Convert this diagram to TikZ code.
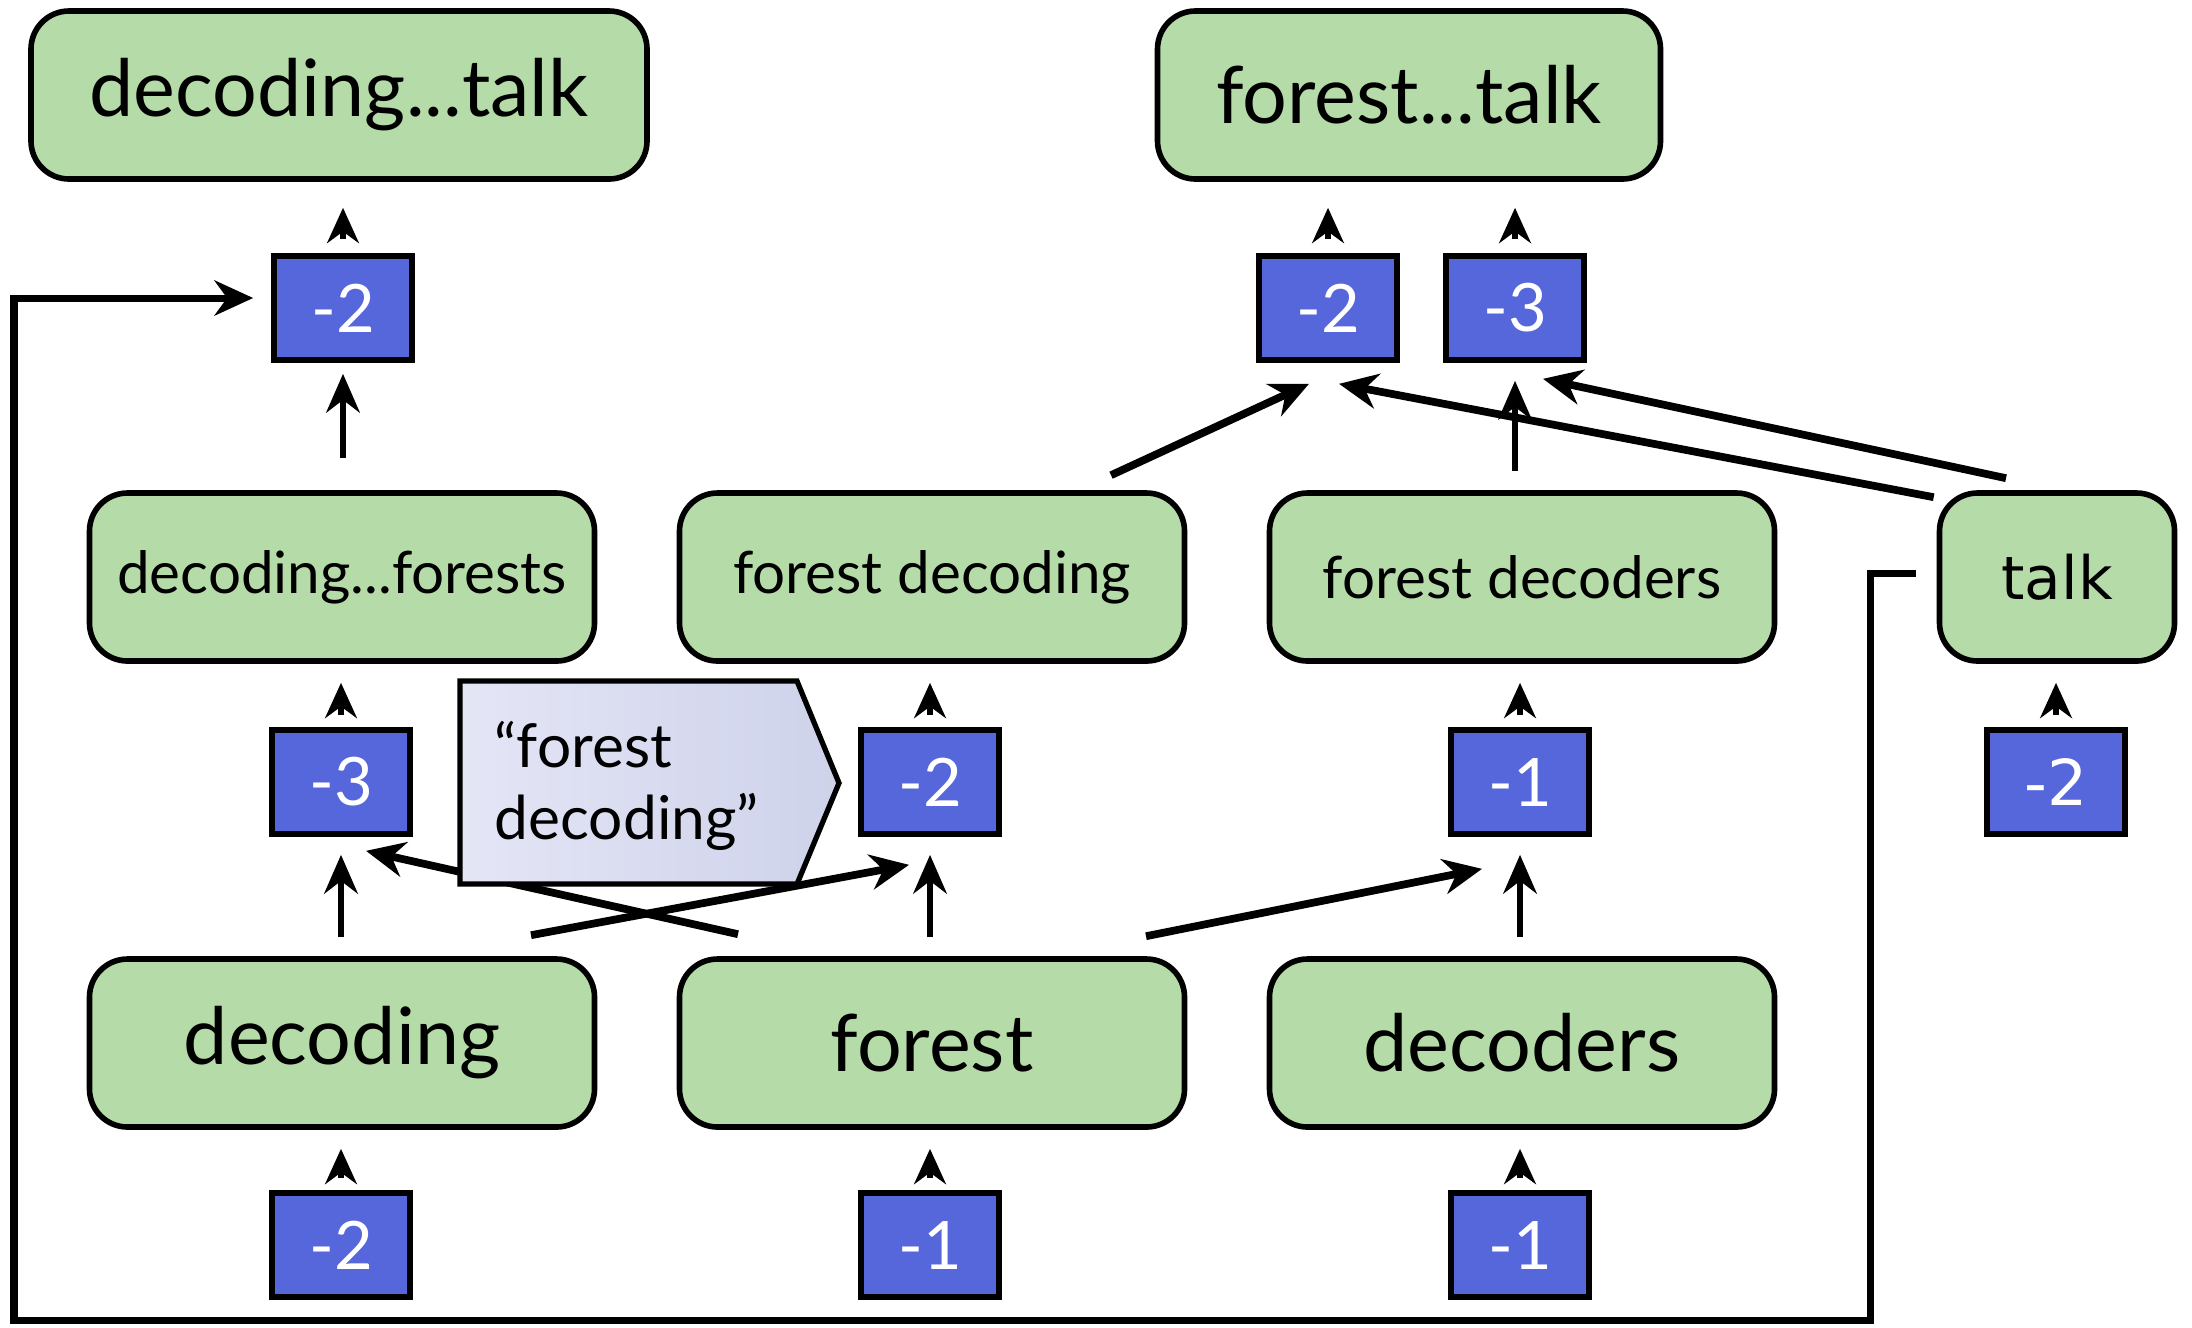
\documentclass[tikz,border=0pt]{standalone}
\usepackage{fontspec}
\setmainfont{Lato}
\newfontfamily\talkfont{DejaVu Sans}
\usetikzlibrary{arrows.meta,calc}
\definecolor{boxgreen}{RGB}{181,219,168}
\definecolor{scoreblue}{RGB}{86,102,219}
\definecolor{calloutL}{RGB}{228,230,246}
\definecolor{calloutR}{RGB}{206,210,234}

\begin{document}
\begin{tikzpicture}[
  phrase/.style={draw=black, line width=1.6pt, fill=boxgreen, rounded corners=0.38cm,
    minimum height=1.68cm, inner sep=0pt},
  bigtext/.style={font=\fontsize{22.5}{22.5}\selectfont},
  midtext/.style={font=\fontsize{16.6}{16.6}\selectfont},
  score/.style={draw=black, line width=1.6pt, fill=scoreblue, text=white,
    minimum width=1.38cm, minimum height=1.04cm, inner sep=0pt,
    font=\fontsize{19}{19}\selectfont},
  up/.style={-{Stealth[length=10pt,width=9pt]}, line width=1.7pt},
  rise/.style={-{Stealth[length=11pt,width=9.5pt]}, line width=1.8pt},
  link/.style={-{Stealth[length=11pt,width=10pt]}, line width=2.2pt},
  loopline/.style={-{Stealth[length=11pt,width=10pt]}, line width=2pt, line join=miter}
]
\useasboundingbox (0,0) rectangle (21.92,-13.27);

% phrases, top row
\node[phrase, bigtext, minimum width=6.16cm] (dtalk) at (3.39,-0.95) {decoding...talk};
\node[phrase, bigtext, minimum width=5.03cm] (ftalk) at (14.09,-0.95) {forest...talk};
\node[score] (dt2) at (3.43,-3.08) {-2};
\node[score] (ft2) at (13.28,-3.08) {-2};
\node[score] (ft3) at (15.15,-3.08) {-3};

% middle row
\node[phrase, midtext, minimum width=5.05cm] (dforests) at (3.42,-5.77) {decoding...forests};
\node[phrase, midtext, minimum width=5.05cm] (fdecoding) at (9.32,-5.77) {forest decoding};
\node[phrase, midtext, minimum width=5.05cm] (fdecoders) at (15.22,-5.77) {forest decoders};
\node[phrase, minimum width=2.35cm, font=\talkfont\fontsize{17}{17}\selectfont] (talk) at (20.57,-5.77) {talk};
\node[score] (df3) at (3.41,-7.82) {-3};
\node[score] (fd2) at (9.30,-7.82) {-2};
\node[score] (fds1) at (15.20,-7.82) {-1};
\node[score, font=\talkfont\fontsize{18}{18}\selectfont] (tk2) at (20.56,-7.82) {-2};

% bottom row
\node[phrase, bigtext, minimum width=5.05cm] (decoding) at (3.42,-10.43) {decoding};
\node[phrase, bigtext, minimum width=5.05cm] (forest) at (9.32,-10.43) {forest};
\node[phrase, bigtext, minimum width=5.05cm] (decoders) at (15.22,-10.43) {decoders};
\node[score] (dec2) at (3.41,-12.45) {-2};
\node[score] (for1) at (9.30,-12.45) {-1};
\node[score] (decs1) at (15.20,-12.45) {-1};

% score -> phrase
\foreach \s/\p in {dt2/dtalk, ft2/ftalk, ft3/ftalk}
  \draw[up, shorten <=0.14cm, shorten >=0.26cm] (\s.north) -- (\s.north |- \p.south);
\foreach \s/\p in {df3/dforests, fd2/fdecoding, fds1/fdecoders, tk2/talk, dec2/decoding, for1/forest, decs1/decoders}
  \draw[up, shorten <=0.12cm, shorten >=0.19cm] (\s.north) -- (\s.north |- \p.south);

% phrase -> score
\foreach \p/\s in {decoding/df3, forest/fd2, decoders/fds1, fdecoders/ft3}
  \draw[rise, shorten <=0.19cm, shorten >=0.18cm] (\s.south |- \p.north) -- (\s.south);
\draw[rise, shorten <=0.32cm, shorten >=0.11cm] (dt2.south |- dforests.north) -- (dt2.south);

% combinations
\draw[link] ($(decoding.north)+(1.89,0.21)$) -- ($(fd2.south)+(-0.21,-0.28)$);
\draw[link] ($(forest.north)+(-1.94,0.22)$) -- ($(df3.south)+(0.25,-0.14)$);
\draw[link] ($(forest.north)+(2.14,0.20)$) -- ($(fds1.south)+(-0.38,-0.32)$);
\draw[link] ($(fdecoding.north)+(1.79,0.15)$) -- ($(ft2.south)+(-0.19,-0.21)$);
\draw[link] ($(talk.north west)+(-0.03,-0.07)$) -- ($(ft2.south)+(0.11,-0.21)$);
\draw[link] ($(talk.north)+(-0.51,0.12)$) -- ($(ft3.south)+(0.28,-0.16)$);

% talk feeds back to the top
\coordinate (fbbot) at (0.14,-13.2);
\draw[loopline] ($(talk.west)+(-0.21,0.04)$) -- ++(-0.45,0) |- (fbbot)
  |- ($(dt2.west)+(-0.18,0.10)$);

% callout
\path[draw=black, line width=1.5pt, left color=calloutL, right color=calloutR]
  (4.60,-6.81) -- (7.97,-6.81) -- (8.39,-7.83) -- (7.97,-8.84) -- (4.60,-8.84) -- cycle;
\node[anchor=west, align=left, inner sep=0pt, font=\fontsize{17.2}{20.5}\selectfont] (callout)
  at (4.94,-7.86) {“forest\\decoding”};
\end{tikzpicture}
\end{document}
